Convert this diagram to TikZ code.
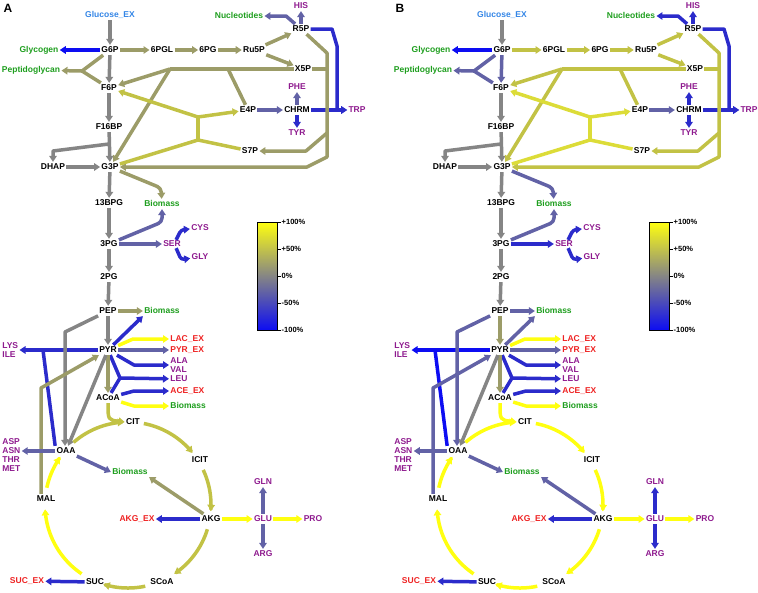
\documentclass[tikz,border=0pt]{standalone}
\usepackage{fontspec}
\setmainfont{Liberation Sans}
\usetikzlibrary{arrows.meta,calc}
\definecolor{cB1}{HTML}{0D0DF2}
\definecolor{cB2}{HTML}{2B2BCB}
\definecolor{cB3}{HTML}{6262A6}
\definecolor{cG}{HTML}{858585}
\definecolor{cO1}{HTML}{9C9C68}
\definecolor{cO2}{HTML}{C2C245}
\definecolor{cO3}{HTML}{DCDC38}
\definecolor{cY}{HTML}{FFFF10}
\definecolor{tgreen}{HTML}{1E9E1E}
\definecolor{tpurple}{HTML}{8E1A8E}
\definecolor{tred}{HTML}{EE2222}
\definecolor{tblue}{HTML}{3385E6}
\newcommand\mf{\fontsize{8.5}{9}\selectfont\bfseries}
\newcommand\mfm{\fontsize{8.5}{8.7}\selectfont\bfseries}
\tikzset{
  nd/.style={font=\mf, inner sep=1.2pt, text height=6.2pt, text depth=1.3pt},
  met/.style={nd, text=black},
  grn/.style={nd, text=tgreen},
  pur/.style={nd, text=tpurple},
  exn/.style={nd, text=tred},
  glc/.style={nd, text=tblue},
  multi/.style={font=\mfm, inner sep=1.2pt, align=left, anchor=west, text=tpurple},
  fl/.style={line width=3.5pt, line join=round},
  fa/.style={fl, -{Triangle[length=6pt,width=7.5pt]}},
  cbl/.style={font=\fontsize{7.5}{8}\selectfont\bfseries, anchor=west, inner sep=0.5pt},
}
\newcommand\colsA{%
\colorlet{eGlc}{cG}\colorlet{eGly}{cB1}\colorlet{ePPP}{cO1}\colorlet{ePep}{cO1}%
\colorlet{eG6F6}{cG}\colorlet{eGray}{cG}\colorlet{ePEPPYR}{cG}\colorlet{eG3Bio}{cO1}%
\colorlet{e3PGBio}{cB3}\colorlet{eSER}{cB3}\colorlet{eCYS}{cB2}\colorlet{ePEPBio}{cO1}%
\colorlet{ePYRBio}{cB2}\colorlet{eLAC}{cY}\colorlet{ePYREX}{cB3}\colorlet{eALA}{cB2}%
\colorlet{eLEU}{cB2}\colorlet{eACE}{cB2}\colorlet{eACBio}{cY}\colorlet{ePYRAC}{cO1}%
\colorlet{eACCIT}{cO2}\colorlet{eTa}{cO2}\colorlet{eTb}{cO2}\colorlet{eTc}{cO2}%
\colorlet{eTd}{cO2}\colorlet{eTe}{cO2}\colorlet{eTf}{cY}\colorlet{eTg}{cY}%
\colorlet{eASP}{cB3}\colorlet{eLYS}{cB2}\colorlet{ePEPOAA}{cG}\colorlet{ePYROAA}{cG}%
\colorlet{eMALPYR}{cO1}\colorlet{eOAABio}{cB3}\colorlet{eAKGBio}{cO1}\colorlet{eAKGEX}{cB2}%
\colorlet{eSUCEX}{cB2}\colorlet{eGLU}{cY}\colorlet{ePRO}{cY}\colorlet{eGLN}{cB3}%
\colorlet{eNuc}{cB3}\colorlet{eHIS}{cB3}\colorlet{eTRP}{cB2}\colorlet{eCHTRP}{cB2}%
\colorlet{eE4P}{cB3}\colorlet{ePHE}{cB3}\colorlet{eTYR}{cB2}\colorlet{eTK2}{cO1}%
\colorlet{eTK1}{cO1}\colorlet{eTA}{cO2}}
\newcommand\colsB{%
\colorlet{eGlc}{cG}\colorlet{eGly}{cB1}\colorlet{ePPP}{cO2}\colorlet{ePep}{cB3}%
\colorlet{eG6F6}{cB3}\colorlet{eGray}{cG}\colorlet{ePEPPYR}{cO1}\colorlet{eG3Bio}{cB3}%
\colorlet{e3PGBio}{cB3}\colorlet{eSER}{cB2}\colorlet{eCYS}{cB2}\colorlet{ePEPBio}{cB3}%
\colorlet{ePYRBio}{cB3}\colorlet{eLAC}{cY}\colorlet{ePYREX}{cB3}\colorlet{eALA}{cB2}%
\colorlet{eLEU}{cB2}\colorlet{eACE}{cB2}\colorlet{eACBio}{cY}\colorlet{ePYRAC}{cO1}%
\colorlet{eACCIT}{cY}\colorlet{eTa}{cY}\colorlet{eTb}{cY}\colorlet{eTc}{cY}%
\colorlet{eTd}{cY}\colorlet{eTe}{cY}\colorlet{eTf}{cY}\colorlet{eTg}{cY}%
\colorlet{eASP}{cB3}\colorlet{eLYS}{cB1}\colorlet{ePEPOAA}{cB3}\colorlet{ePYROAA}{cG}%
\colorlet{eMALPYR}{cB3}\colorlet{eOAABio}{cB3}\colorlet{eAKGBio}{cB3}\colorlet{eAKGEX}{cB2}%
\colorlet{eSUCEX}{cB2}\colorlet{eGLU}{cY}\colorlet{ePRO}{cY}\colorlet{eGLN}{cB2}%
\colorlet{eNuc}{cB2}\colorlet{eHIS}{cB2}\colorlet{eTRP}{cB2}\colorlet{eCHTRP}{cB2}%
\colorlet{eE4P}{cB3}\colorlet{ePHE}{cB2}\colorlet{eTYR}{cB2}\colorlet{eTK2}{cO2}%
\colorlet{eTK1}{cO2}\colorlet{eTA}{cO3}}
\newcommand\metpanel[1]{%
\node[font=\fontsize{12}{12}\selectfont\bfseries, inner sep=0pt] (lab) at (8,8) {#1};
\node[glc] (Glc) at (110,15) {Glucose\_EX};
\node[met] (G6P) at (110,50) {G6P};
\node[grn] (Glyc) at (39,50) {Glycogen};
\node[met] (PGL6) at (162,50) {6PGL};
\node[met] (PG6) at (208,50) {6PG};
\node[met] (Ru5P) at (254,50) {Ru5P};
\node[met] (R5P) at (301,29) {R5P};
\node[pur] (HIS) at (301,6) {HIS};
\node[grn] (Nucl) at (239,16) {Nucleotides};
\node[met] (X5P) at (303,69) {X5P};
\node[met] (E4P) at (248,110) {E4P};
\node[met] (CHRM) at (297,110) {CHRM};
\node[pur] (PHE) at (297,87) {PHE};
\node[pur] (TYR) at (297,133) {TYR};
\node[pur] (TRP) at (357,110) {TRP};
\node[grn] (Pepg) at (31,70) {Peptidoglycan};
\node[met] (F6P) at (109,88) {F6P};
\node[met] (F16BP) at (109,127) {F16BP};
\node[met] (DHAP) at (53,167) {DHAP};
\node[met] (G3P) at (110,167) {G3P};
\node[met] (S7P) at (250,151) {S7P};
\node[met] (BPG13) at (109,203) {13BPG};
\node[grn] (BioA) at (162,204) {Biomass};
\node[met] (PG3) at (109,244) {3PG};
\node[pur] (SER) at (172,244) {SER};
\node[pur] (CYS) at (200,228) {CYS};
\node[pur] (GLY) at (200,257) {GLY};
\node[met] (PG2) at (109,277) {2PG};
\node[met] (PEP) at (108,311) {PEP};
\node[grn] (BioB) at (162,311) {Biomass};
\node[met] (PYR) at (108,350) {PYR};
\node[multi] (LYS) at (1,350) {LYS\\ILE};
\node[exn,anchor=west] (LAC) at (169,339) {LAC\_EX};
\node[exn,anchor=west] (PYREX) at (169,350) {PYR\_EX};
\node[multi] (ALA) at (169,365) {ALA\\VAL};
\node[pur,anchor=west] (LEU) at (169,379) {LEU};
\node[exn,anchor=west] (ACE) at (169,391) {ACE\_EX};
\node[grn,anchor=west] (BioC) at (169,406) {Biomass};
\node[met] (ACoA) at (108,398) {ACoA};
\node[met] (CIT) at (133,422) {CIT};
\node[met] (ICIT) at (200,460) {ICIT};
\node[met] (AKG) at (211,519) {AKG};
\node[met] (SCoA) at (162,582) {SCoA};
\node[met] (SUC) at (95,582) {SUC};
\node[met] (MAL) at (46,499) {MAL};
\node[met] (OAA) at (66,451) {OAA};
\node[multi] (ASP) at (1,455) {ASP\\ASN\\THR\\MET};
\node[grn] (BioD) at (130,472) {Biomass};
\node[exn] (AKGEX) at (137,519) {AKG\_EX};
\node[exn] (SUCEX) at (27,581) {SUC\_EX};
\node[pur] (GLU) at (263,519) {GLU};
\node[pur] (GLN) at (263,482) {GLN};
\node[pur] (ARG) at (263,554) {ARG};
\node[pur] (PRO) at (313,519) {PRO};
\coordinate (kP) at (82,71);
\coordinate (kD1) at (109,144);
\coordinate (kD2) at (53,151);
\coordinate (kX) at (170,69);
\coordinate (kE) at (228,69);
\coordinate (tA) at (198,117);
\coordinate (tB) at (198,140);
\coordinate (kV1) at (327,53);
\coordinate (kV2) at (327,157);
\coordinate (kV3) at (307,167);
\coordinate (kX5) at (327,69);
\coordinate (kS1) at (327,133);
\coordinate (kS2) at (306,151);
\coordinate (kN) at (286,16);
\coordinate (kT1) at (332,29);
\coordinate (kT2) at (337,46);
\coordinate (kL) at (43,350);
\coordinate (kPE) at (65,332);
\coordinate (kM) at (41,388);
\coordinate (kLEU) at (120,378);
\coordinate (kGB) at (161,188);
\coordinate (kPB) at (162,222);
% upper glycolysis
\draw[fa,eGlc] (Glc) -- (G6P);
\draw[fa,eGly] (G6P) -- (Glyc);
\draw[fa,eG6F6] (G6P) -- (F6P);
\draw[fl,ePep] (G6P) -- (kP) -- (F6P);
\draw[fa,ePep] (kP) -- (Pepg);
\draw[fa,eGray] (F6P) -- (F16BP);
\draw[fa,eGray] (F16BP) -- (G3P);
\draw[fa,eGray] (kD1) -- (kD2) -- (DHAP);
\draw[fa,eGray] (DHAP) -- (G3P);
\draw[fa,eGray] (G3P) -- (BPG13);
\draw[fa,eGray] (BPG13) -- (PG3);
\draw[fa,eGray] (PG3) -- (PG2);
\draw[fa,eGray] (PG2) -- (PEP);
\draw[fa,ePEPPYR] (PEP) -- (PYR);
\draw[fa,eG3Bio,rounded corners=4pt] (G3P) -- (kGB) -- (BioA);
\draw[fa,e3PGBio,rounded corners=4pt] (PG3) -- (kPB) -- (BioA);
\draw[fa,eSER] (PG3) -- (SER);
\draw[fa,eCYS,rounded corners=3pt] ($(SER.north east)+(-6,1)$) -- ($(SER.north east)+(-1,-9)$) -- (CYS);
\draw[fa,eCYS,rounded corners=3pt] ($(SER.south east)+(-6,-1)$) -- ($(SER.south east)+(-1,10.5)$) -- (GLY);
% pentose phosphate
\draw[fa,ePPP] (G6P) -- (PGL6);
\draw[fa,ePPP] (PGL6) -- (PG6);
\draw[fa,ePPP] (PG6) -- (Ru5P);
\draw[fa,ePPP] (Ru5P) -- (R5P);
\draw[fa,ePPP] (Ru5P) -- (X5P);
\draw[fa,eNuc] (R5P) -- (kN) -- (Nucl);
\draw[fa,eHIS] (R5P) -- (HIS);
\draw[fa,eTRP] (R5P) -- (kT1) -- (kT2) -- (kT2 |- TRP) -- (TRP);
\draw[fa,eE4P] (E4P) -- (CHRM);
\draw[fa,eCHTRP] (CHRM) -- (TRP);
\draw[fa,ePHE] (CHRM) -- (PHE);
\draw[fa,eTYR] (CHRM) -- (TYR);
\draw[fa,eTK2] (R5P) -- (kV1) -- (kV2) -- (kV3) -- (G3P);
\draw[fl,eTK2] (X5P) -- (kX5);
\draw[fa,eTK2] (kS1) -- (kS2) -- (S7P);
\draw[fl,eTK1] (X5P) -- (kX);
\draw[fa,eTK1] (kX) -- (F6P);
\draw[fa,eTK1] (kX) -- (G3P);
\draw[fl,eTK1] (kE) -- (E4P);
\draw[fl,eTA] (tA) -- (tB);
\draw[fa,eTA] (tA) -- (E4P);
\draw[fa,eTA] (tA) -- (F6P);
\draw[fl,eTA] (tB) -- (S7P);
\draw[fl,eTA] (tB) -- (G3P);
% pyruvate node
\draw[fa,ePEPBio] (PEP) -- (BioB);
\draw[fa,ePYRBio] (PYR) -- (BioB.south west);
\draw[fa,eLAC] (PYR) -- (133,339) -- (LAC);
\draw[fa,ePYREX] (PYR) -- (PYREX);
\draw[fa,eALA] (PYR) -- (134,365) -- (ALA);
\draw[fl,eLEU] (PYR) -- (kLEU) -- (ACoA);
\draw[fa,eLEU] (kLEU) -- (LEU);
\draw[fa,ePYRAC] (PYR) -- (ACoA);
\draw[fa,eACE] (ACoA) -- (134,391) -- (ACE);
\draw[fa,eACBio] (ACoA) -- (134,406) -- (BioC);
\draw[fa,eACCIT] (ACoA.south) .. controls (108,420) .. (CIT.west);
\draw[fa,eLYS] (PYR) -- (PYR -| LYS.east);
\draw[fl,eLYS] (kL) -- (OAA.north west);
\draw[fa,ePEPOAA] (PEP) -- (kPE) -- (kPE |- OAA.north);
\draw[fa,ePYROAA] (PYR) -- (OAA);
\draw[fa,eMALPYR] (kM |- MAL.north) -- (kM) -- (PYR);
% TCA cycle
\draw[fa,eTa] plot[domain=-131:-93,samples=30,variable=\t] ({128+83*cos(\t)},{505+83*sin(\t)});
\draw[fa,eTb] plot[domain=-79:-39,samples=30,variable=\t] ({128+83*cos(\t)},{505+83*sin(\t)});
\draw[fa,eTc] plot[domain=-25:4,samples=30,variable=\t] ({128+83*cos(\t)},{505+83*sin(\t)});
\draw[fa,eTd] plot[domain=17:56,samples=30,variable=\t] ({128+83*cos(\t)},{505+83*sin(\t)});
\draw[fa,eTe] plot[domain=78:107,samples=30,variable=\t] ({128+83*cos(\t)},{505+83*sin(\t)});
\draw[fa,eTf] plot[domain=124:177,samples=30,variable=\t] ({128+83*cos(\t)},{505+83*sin(\t)});
\draw[fa,eTg] plot[domain=192:215,samples=30,variable=\t] ({128+83*cos(\t)},{505+83*sin(\t)});
\draw[fa,eASP] (OAA) -- (OAA -| ASP.east);
\draw[fa,eOAABio] (OAA) -- (BioD.west);
\draw[fa,eAKGBio] (AKG) -- (BioD.south east);
\draw[fa,eAKGEX] (AKG) -- (AKGEX);
\draw[fa,eSUCEX] (SUC) -- (SUCEX);
\draw[fa,eGLU] (AKG) -- (GLU);
\draw[fa,ePRO] (GLU) -- (PRO);
\draw[fa,eGLN] (GLU) -- (GLN);
\draw[fa,eGLN] (GLU) -- (ARG);
% colour bar
\shade[top color=cY, bottom color=cG] (257,222) rectangle (277,276);
\shade[top color=cG, bottom color=cB1] (257,276) rectangle (277,330);
\draw[line width=0.8pt] (257,222) rectangle (277,330);
\foreach \yy/\tt in {222/+100\%,249/+50\%,276/0\%,303/-50\%,330/-100\%}{
  \draw[line width=0.8pt] (277,\yy) -- (281,\yy);
  \node[cbl] at (281,\yy) {\tt};
}
}
\begin{document}
\begin{tikzpicture}[x=1pt,y=-1pt]
\useasboundingbox (0,0) rectangle (758,592);
\begin{scope}[name prefix=A-]
\colsA
\metpanel{A}
\end{scope}
\begin{scope}[xshift=392pt,name prefix=B-]
\colsB
\metpanel{B}
\end{scope}
\end{tikzpicture}
\end{document}
